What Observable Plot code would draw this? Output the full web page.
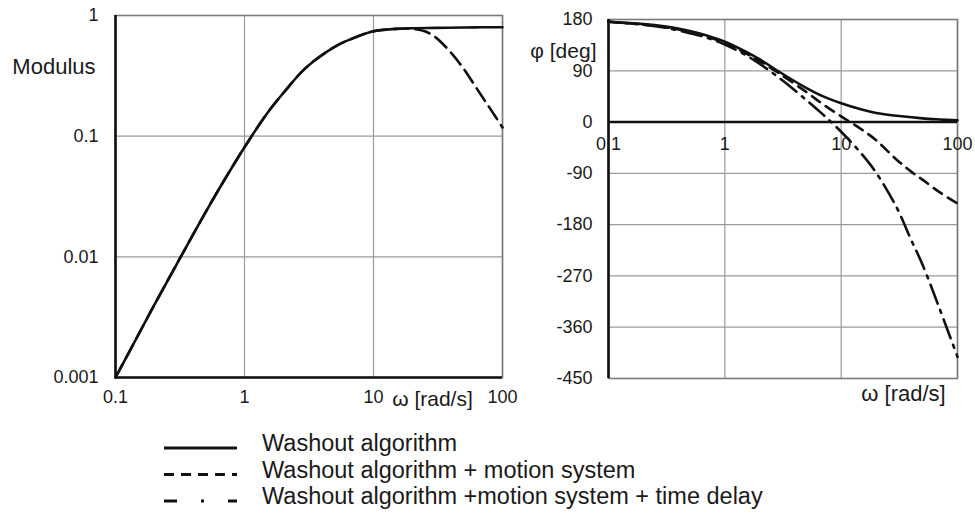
<!DOCTYPE html>
<html>
<head>
<meta charset="utf-8">
<script src="https://cdn.jsdelivr.net/npm/d3@7"></script>
<script src="https://cdn.jsdelivr.net/npm/@observablehq/plot@0.6"></script>
<style>
  html, body { margin: 0; padding: 0; background: #fff; }
  #wrap { position: relative; width: 975px; height: 524px; overflow: hidden; background: #fff; }
  #wrap > * { position: absolute; }
</style>
</head>
<body>
<div id="wrap"></div>
<script>
// ---------- data ----------
const xTicks = [0.1, 1, 10, 100];
const xTickLabels = ["0.1", "1", "10", "100"];
const modTicks = [0.001, 0.01, 0.1, 1];
const modTickLabels = ["0.001", "0.01", "0.1", "1"];
const phaseTicks = [-450, -360, -270, -180, -90, 0, 90, 180];
const phaseTickLabels = ["-450", "-360", "-270", "-180", "-90", "0", "90", "180"];

const seriesNames = [
  "Washout algorithm",
  "Washout algorithm + motion system",
  "Washout algorithm +motion system + time delay"
];

// Modulus – washout algorithm
const modSolidW = [0.1, 0.15, 0.2, 0.3, 0.5, 0.7, 1, 1.5, 2, 3, 5, 7, 10, 15, 20, 30, 50, 70, 100];
const modSolidV = [0.001, 0.00225, 0.004, 0.0088, 0.0235, 0.0435, 0.081, 0.155, 0.228, 0.37, 0.55, 0.65, 0.74, 0.775, 0.785, 0.79, 0.795, 0.798, 0.8];
// Modulus – washout + motion system
const modDashW = [0.1, 0.15, 0.2, 0.3, 0.5, 0.7, 1, 1.5, 2, 3, 5, 7, 10, 15, 20, 25, 30, 40, 50, 60, 70, 80, 100];
const modDashV = [0.001, 0.00225, 0.004, 0.0088, 0.0235, 0.0435, 0.081, 0.155, 0.228, 0.37, 0.55, 0.65, 0.74, 0.775, 0.775, 0.74, 0.665, 0.49, 0.362, 0.27, 0.21, 0.17, 0.118];

// Phase – three series
const phSolidW = [0.1, 0.2, 0.3, 0.5, 0.7, 1, 1.5, 2, 3, 5, 7, 10, 15, 20, 30, 50, 70, 100];
const phSolidV = [176, 172, 168, 160, 152, 141, 124, 110, 87, 60, 45, 33, 22, 16, 11, 6.5, 4.6, 3];
const phDashW = [0.1, 0.2, 0.3, 0.5, 0.7, 1, 1.5, 2, 3, 5, 7, 10, 15, 20, 30, 40, 50, 70, 100];
const phDashV = [176, 171, 167, 158, 150, 139, 121, 107, 84, 53, 31, 10, -13, -32, -66, -87, -101, -123, -143];
const phDotW = [0.1, 0.2, 0.3, 0.5, 0.7, 1, 1.5, 2, 3, 5, 7, 10, 15, 20, 30, 40, 50, 70, 100];
const phDotV = [176, 171, 166, 156, 148, 136, 118, 102, 76, 39, 13, -17, -56, -89, -150, -207, -250, -327, -412];

// ---------- helpers ----------
const zip = (w, v) => w.map((x, i) => ({w: x, v: v[i]}));
const FONT = "'Liberation Sans', Arial, Helvetica, sans-serif";
const GRID = "#9a9a9a";
const FRAME = "#7a7a7a";
const INK = "#111";
const TXT = "#1a1a1a";
const LW = 2.6;

const wrap = document.getElementById("wrap");

// ---------- left panel: modulus ----------
const left = Plot.plot({
  width: 530, height: 420,
  marginLeft: 115, marginRight: 28, marginTop: 15, marginBottom: 43,
  x: {type: "log", domain: [0.1, 100], label: null},
  y: {type: "log", domain: [0.001, 1], label: null},
  style: {fontFamily: FONT, fontSize: "18px", color: TXT, background: "transparent", overflow: "visible"},
  marks: [
    Plot.gridX(xTicks, {stroke: GRID, strokeOpacity: 1, strokeWidth: 1.2}),
    Plot.gridY(modTicks, {stroke: GRID, strokeOpacity: 1, strokeWidth: 1.2}),
    Plot.frame({stroke: FRAME, strokeWidth: 1.6}),
    Plot.axisX(xTicks, {tickSize: 0, tickPadding: 13, label: null, tickFormat: d => xTickLabels[xTicks.indexOf(d)]}),
    Plot.axisY(modTicks, {tickSize: 0, tickPadding: 17, label: null, tickFormat: d => modTickLabels[modTicks.indexOf(d)]}),
    Plot.ruleX([0.1], {stroke: INK, strokeWidth: 2.6}),
    Plot.ruleY([0.001], {stroke: INK, strokeWidth: 2.6}),
    Plot.line(zip(modDashW, modDashV), {x: "w", y: "v", stroke: INK, strokeWidth: LW, strokeDasharray: "15,7", curve: "catmull-rom"}),
    Plot.line(zip(modSolidW, modSolidV), {x: "w", y: "v", stroke: INK, strokeWidth: LW, curve: "catmull-rom"}),
    Plot.text(["Modulus"], {frameAnchor: "top-left", dx: -20, dy: 43, textAnchor: "end", fontSize: 22, fill: TXT}),
    Plot.text(["ω [rad/s]"], {frameAnchor: "bottom-right", dx: -70, dy: 28, textAnchor: "middle", fontSize: 21, fill: TXT})
  ]
});
left.style.left = "0px";
left.style.top = "0px";
wrap.appendChild(left);

// ---------- right panel: phase ----------
const right = Plot.plot({
  width: 455, height: 420,
  marginLeft: 88, marginRight: 18, marginTop: 19, marginBottom: 42,
  x: {type: "log", domain: [0.1, 100], axis: null, label: null},
  y: {domain: [-450, 180], label: null},
  style: {fontFamily: FONT, fontSize: "18px", color: TXT, background: "transparent", overflow: "visible"},
  marks: [
    Plot.gridX(xTicks, {stroke: GRID, strokeOpacity: 1, strokeWidth: 1.2}),
    Plot.gridY(phaseTicks, {stroke: GRID, strokeOpacity: 1, strokeWidth: 1.2}),
    Plot.frame({stroke: FRAME, strokeWidth: 1.6}),
    Plot.axisY(phaseTicks, {tickSize: 0, tickPadding: 16, label: null, tickFormat: d => phaseTickLabels[phaseTicks.indexOf(d)]}),
    Plot.ruleX([0.1], {stroke: INK, strokeWidth: 2.6}),
    Plot.ruleY([0], {stroke: INK, strokeWidth: 2.6}),
    Plot.text(xTicks, {x: d => d, y: () => 0, dy: 22, text: (d, i) => xTickLabels[i], fontSize: 18, fill: TXT}),
    Plot.line(zip(phDotW, phDotV), {x: "w", y: "v", stroke: INK, strokeWidth: LW, strokeDasharray: "20,7,3,7", curve: "catmull-rom"}),
    Plot.line(zip(phDashW, phDashV), {x: "w", y: "v", stroke: INK, strokeWidth: LW, strokeDasharray: "10,7", curve: "catmull-rom"}),
    Plot.line(zip(phSolidW, phSolidV), {x: "w", y: "v", stroke: INK, strokeWidth: LW, curve: "catmull-rom"}),
    Plot.text(["φ [deg]"], {frameAnchor: "top-left", dx: -12, dy: 24, textAnchor: "end", fontSize: 21, fill: TXT}),
    Plot.text(["ω [rad/s]"], {frameAnchor: "bottom-right", dx: -54, dy: 22, textAnchor: "middle", fontSize: 22, fill: TXT})
  ]
});
right.style.left = "520px";
right.style.top = "0px";
wrap.appendChild(right);

// ---------- legend ----------
const legendStyles = [null, "10,7", "13,24,3,24"];
const legend = d3.create("svg")
  .attr("width", 975).attr("height", 110)
  .style("left", "0px").style("top", "420px")
  .style("font-family", FONT);
seriesNames.forEach((name, i) => {
  const yText = 23 + i * 26.5;
  const yLine = yText + 5;
  const line = legend.append("line")
    .attr("x1", 164).attr("x2", 237).attr("y1", yLine).attr("y2", yLine)
    .attr("stroke", INK).attr("stroke-width", 3);
  if (legendStyles[i]) line.attr("stroke-dasharray", legendStyles[i]);
  legend.append("text")
    .attr("x", 262).attr("y", yText).attr("dy", "0.35em")
    .attr("font-size", 23.5).attr("fill", TXT)
    .text(name);
});
wrap.appendChild(legend.node());
</script>
</body>
</html>
